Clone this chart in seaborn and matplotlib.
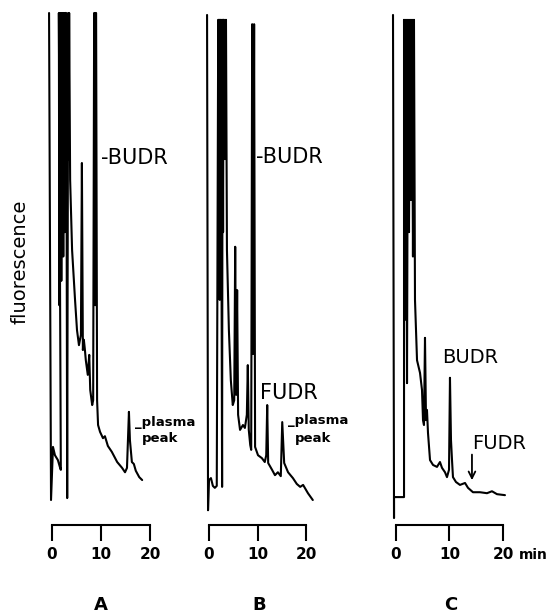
import seaborn as sns
import matplotlib.pyplot as plt

# time in min, fluorescence in arbitrary units (100 = pen at top of chart)
a_time = [-0.6, -0.2, 0.2, 0.6, 1.2, 1.6, 1.8, 1.4, 1.5, 1.6, 1.7, 1.8, 1.9, 2.0,
          2.1, 2.2, 2.3, 2.4, 2.6, 2.7, 2.9, 3.1, 3.3, 3.4, 3.5, 3.7, 4.1, 4.7,
          5.1, 5.5, 5.9, 6.1, 6.3, 6.5, 6.7, 6.9, 7.3, 7.6, 7.8, 8.2, 8.4, 8.6,
          8.8, 8.9, 9.0, 9.2, 9.4, 9.8, 10.4, 10.8, 11.4, 12.2, 13.3, 14.3,
          14.9, 15.3, 15.7, 15.9, 16.3, 16.7, 17.1, 17.8, 18.4]
a_signal = [100, 0, 10.9, 9.2, 8.2, 6.8, 6.2, 100, 40, 100, 55, 100, 45, 100,
            60, 100, 50, 100, 55, 100, 100, 0.4, 100, 70, 100, 65.7, 51.3, 41.1,
            34.9, 31.8, 33.9, 69.2, 30.8, 32.9, 31.0, 28.7, 25.7, 29.8, 22.6,
            19.5, 20.5, 100, 40, 100, 100, 20.5, 15.4, 14.0, 12.7, 13.1, 11.1,
            9.9, 7.8, 6.6, 5.7, 6.6, 18.1, 12.3, 7.8, 7.4, 6.0, 4.7, 4.1]

b_time = [-0.4, -0.2, 0.0, 0.4, 0.8, 1.2, 1.6, 1.9, 2.0, 2.1, 2.2, 2.3, 2.4, 2.5,
          2.6, 2.7, 2.8, 2.9, 3.0, 3.1, 3.3, 3.5, 3.7, 4.1, 4.5, 4.9, 5.2, 5.4,
          5.6, 5.8, 6.0, 6.4, 7.0, 7.4, 7.8, 8.0, 8.2, 8.5, 8.7, 8.9, 9.1, 9.3,
          9.5, 10.1, 10.9, 11.5, 11.8, 12.0, 12.2, 13.0, 13.6, 14.2, 14.8, 15.1,
          15.5, 16.3, 17.3, 18.1, 18.8, 19.4, 20.4, 21.4]
b_signal = [99.6, -2.1, 4.1, 4.5, 2.9, 2.5, 2.9, 98.6, 45, 98.6, 41.1, 98.6, 50,
            98.6, 40, 2.7, 98.6, 55, 98.6, 98.6, 70, 98.6, 51.3, 34.9, 24.6, 19.5,
            20.5, 52.0, 21.6, 43.1, 17.5, 14.4, 15.4, 14.8, 17.5, 27.7, 14.4,
            11.3, 10.3, 97.7, 30, 97.7, 10.9, 9.2, 8.6, 7.8, 9.2, 19.5, 7.6, 6.2,
            5.1, 5.7, 4.9, 16.0, 7.6, 5.7, 4.5, 3.3, 2.7, 3.1, 1.4, 0.0]

c_time = [-0.56, -0.37, -0.37, 1.5, 1.5, 1.68, 1.87, 2.06, 2.24, 2.43, 2.62, 2.8,
          2.99, 3.17, 3.36, 3.55, 3.93, 4.49, 4.86, 5.05, 5.23, 5.42, 5.61, 5.79,
          5.98, 6.36, 6.92, 7.66, 8.22, 8.6, 9.16, 9.53, 9.91, 10.09, 10.28,
          10.47, 10.65, 11.21, 11.96, 12.9, 13.46, 14.39, 15.7, 17.01, 17.94,
          18.88, 20.37]
c_signal = [99.6, -3.7, 0.6, 0.6, 98.6, 37.0, 98.6, 24.0, 98.6, 55, 98.6, 61.6,
            98.6, 50, 98.6, 41.1, 28.7, 26.1, 22.6, 16.4, 15.4, 33.3, 16.4, 18.5,
            13.8, 8.2, 7.2, 6.8, 7.8, 6.6, 5.7, 4.7, 6.2, 25.1, 12.3, 8.2, 4.7,
            3.7, 3.1, 3.5, 2.5, 1.6, 1.6, 1.4, 1.8, 1.2, 1.0]

tick_values = [0, 10, 20]
tick_labels = ["0", "10", "20"]
panel_names = ["A", "B", "C"]

sns.set_theme(style="white")
plt.rcParams["font.family"] = ["DejaVu Sans"]
plt.rcParams["text.color"] = "black"
plt.rcParams["xtick.color"] = "black"
plt.rcParams["axes.labelcolor"] = "black"

W, H = 547, 615
fig = plt.figure(figsize=(W / 100, H / 100), dpi=100)


def make_axes(x0, x1, xlim):
    ax = fig.add_axes([x0 / W, (H - 525) / H, (x1 - x0) / W, 512 / H])
    ax.patch.set_alpha(0)
    ax.set_xlim(*xlim)
    ax.set_ylim(-5.13, 100)
    for side in ["left", "top", "right"]:
        ax.spines[side].set_visible(False)
    ax.spines["bottom"].set_bounds(0, 20)
    ax.spines["bottom"].set_linewidth(1.5)
    ax.spines["bottom"].set_color("black")
    ax.set_yticks([])
    ax.set_xticks(tick_values)
    ax.set_xticklabels(tick_labels, fontsize=11, fontweight="bold", color="black")
    ax.tick_params(axis="x", direction="out", length=11.5, width=1.5,
                   color="black", pad=4, bottom=True)
    ax.set_xlabel("")
    ax.set_ylabel("")
    return ax


ax_a = make_axes(40, 200, (-2.449, 30.20))
ax_b = make_axes(195, 355, (-2.887, 30.10))
ax_c = make_axes(380, 540, (-2.991, 26.92))

for ax, t, s in [(ax_a, a_time, a_signal), (ax_b, b_time, b_signal),
                 (ax_c, c_time, c_signal)]:
    sns.lineplot(x=t, y=s, sort=False, estimator=None, color="black",
                 linewidth=1.5, ax=ax, clip_on=False)

# peak labels
ax_a.text(10.0, 70.2, "-BUDR", fontsize=15, va="center", ha="left")
ax_a.text(16.9, 16.0, "_plasma", fontsize=9.5, fontweight="bold", va="center")
ax_a.text(18.4, 12.7, "peak", fontsize=9.5, fontweight="bold", va="center")

ax_b.text(9.7, 70.4, "-BUDR", fontsize=15, va="center", ha="left")
ax_b.text(10.5, 22.0, "FUDR", fontsize=15, va="center", ha="left")
ax_b.text(16.3, 16.4, "_plasma", fontsize=9.5, fontweight="bold", va="center")
ax_b.text(17.7, 12.7, "peak", fontsize=9.5, fontweight="bold", va="center")

ax_c.text(8.6, 29.2, "BUDR", fontsize=14, va="center", ha="left")
ax_c.text(14.2, 11.7, "FUDR", fontsize=14, va="center", ha="left")
ax_c.annotate("", xy=(14.2, 3.5), xytext=(14.2, 9.9),
              arrowprops=dict(arrowstyle="->", color="black", lw=1.3))

fig.text(519 / W, 1 - 555 / H, "min", fontsize=10, fontweight="bold",
         ha="left", va="center")
fig.text(20 / W, 1 - 262 / H, "fluorescence", fontsize=14, rotation=90,
         ha="center", va="center")
for name, xc in zip(panel_names, [101, 259, 451]):
    fig.text(xc / W, 1 - 605 / H, name, fontsize=13, fontweight="bold",
             ha="center", va="center")

fig.savefig("out.png", dpi=100)
